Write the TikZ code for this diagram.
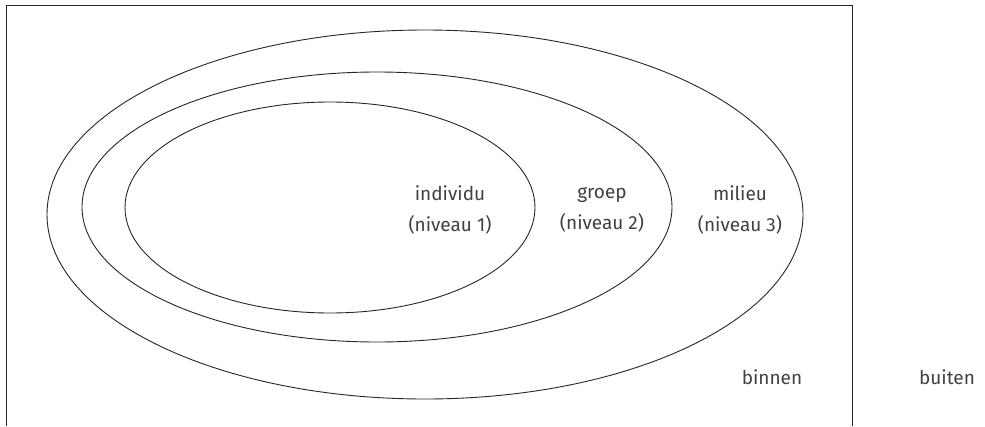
\documentclass[tikz,border=0pt]{standalone}
\usepackage{fontspec}
\setmainfont{Fira Sans}
\begin{document}
\begin{tikzpicture}[x=1pt,y=-1pt,
  ring/.style={draw=black!85,line width=0.9pt},
  lbl/.style={text=black!75,font=\fontsize{19}{31}\selectfont,align=center,inner sep=0pt}]
\useasboundingbox (0,0) rectangle (985,426);
\draw[black!85,line width=1pt] (6.5,426) -- (6.5,5.5) -- (852,5.5) -- (852,426);
\draw[ring] (425,214.5) ellipse [x radius=378,y radius=184.5];
\draw[ring] (377,207) ellipse [x radius=295,y radius=135];
\draw[ring] (330,207.5) ellipse [x radius=205,y radius=105.5];
\node[lbl] (ind) at (450,210) {individu\\(niveau 1)};
\node[lbl] (grp) at (602,210) {groep\\(niveau 2)};
\node[lbl] (mil) at (740,210) {milieu\\(niveau 3)};
\node[lbl] (bin) at (772,377) {binnen};
\node[lbl] (bui) at (947,377) {buiten};
\end{tikzpicture}
\end{document}
